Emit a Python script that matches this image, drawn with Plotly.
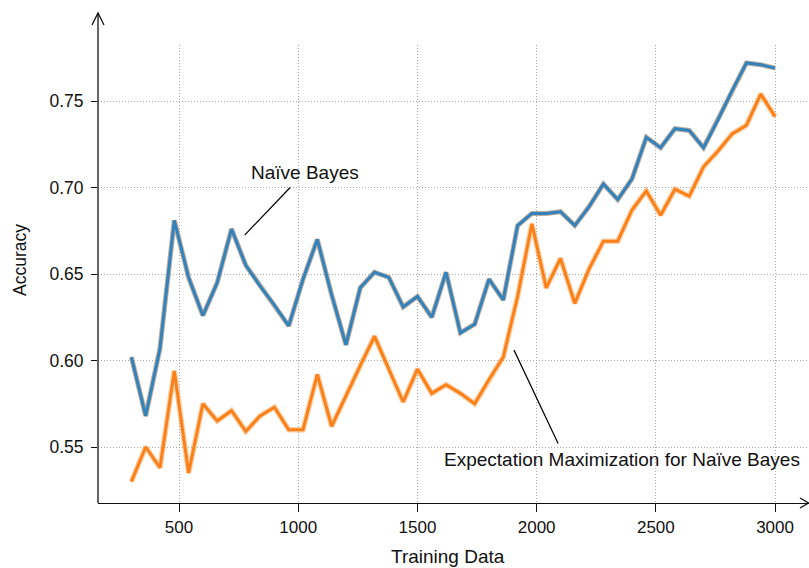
import plotly.graph_objects as go

training_size = [300, 360, 420, 480, 540, 600, 660, 720, 780, 840,
                 900, 960, 1020, 1080, 1140, 1200, 1260, 1320, 1380, 1440,
                 1500, 1560, 1620, 1680, 1740, 1800, 1860, 1920, 1980, 2040,
                 2100, 2160, 2220, 2280, 2340, 2400, 2460, 2520, 2580, 2640,
                 2700, 2760, 2820, 2880, 2940, 3000]

naive_bayes = [0.602, 0.568, 0.607, 0.681, 0.648, 0.626, 0.645, 0.676, 0.655, 0.643,
               0.632, 0.620, 0.647, 0.670, 0.638, 0.609, 0.642, 0.651, 0.648, 0.631,
               0.637, 0.625, 0.651, 0.616, 0.621, 0.647, 0.635, 0.678, 0.685, 0.685,
               0.686, 0.678, 0.689, 0.702, 0.693, 0.705, 0.729, 0.723, 0.734, 0.733,
               0.723, 0.739, 0.756, 0.772, 0.771, 0.769]

em_naive_bayes = [0.530, 0.550, 0.538, 0.594, 0.535, 0.575, 0.565, 0.571, 0.559, 0.568,
                  0.573, 0.560, 0.560, 0.592, 0.562, 0.580, 0.597, 0.614, 0.595, 0.576,
                  0.595, 0.581, 0.586, 0.581, 0.575, 0.589, 0.602, 0.637, 0.679, 0.642,
                  0.659, 0.633, 0.653, 0.669, 0.669, 0.687, 0.698, 0.684, 0.699, 0.695,
                  0.712, 0.721, 0.731, 0.736, 0.754, 0.741]

x_ticks = [500, 1000, 1500, 2000, 2500, 3000]
y_ticks = [0.55, 0.60, 0.65, 0.70, 0.75]
y_tick_labels = ["0.55", "0.60", "0.65", "0.70", "0.75"]

FONT = "Liberation Sans, Arial, sans-serif"
W, H = 809, 568
L, R, T, B = 98, 0, 45, 65
PW, PH = W - L - R, H - T - B


def px(x):
    return (x - L) / PW


def py(y):
    return (H - B - y) / PH


fig = go.Figure()

fig.add_trace(go.Scatter(x=training_size, y=em_naive_bayes, mode="lines",
                         line=dict(color="rgba(255,150,60,0.45)", width=5.5),
                         hoverinfo="skip", showlegend=False))
fig.add_trace(go.Scatter(x=training_size, y=em_naive_bayes, mode="lines",
                         line=dict(color="#f8811a", width=3),
                         name="EM", showlegend=False))
fig.add_trace(go.Scatter(x=training_size, y=naive_bayes, mode="lines",
                         line=dict(color="rgba(150,120,100,0.6)", width=5),
                         hoverinfo="skip", showlegend=False))
fig.add_trace(go.Scatter(x=training_size, y=naive_bayes, mode="lines",
                         line=dict(color="#3282bb", width=3),
                         name="NB", showlegend=False))

shapes = []
shapes.append(dict(type="line", xref="paper", yref="paper",
                   x0=0, x1=0, y0=0, y1=py(13), line=dict(color="#111", width=1.3)))
shapes.append(dict(type="path", xref="paper", yref="paper",
                   path=f"M {px(92)},{py(25)} L {px(98)},{py(13)} L {px(104)},{py(25)}",
                   line=dict(color="#111", width=1.3)))
shapes.append(dict(type="path", xref="paper", yref="paper",
                   path=f"M {px(800)},{py(498)} L {px(808.5)},{py(503)} L {px(800)},{py(508)}",
                   line=dict(color="#111", width=1.3)))
shapes.append(dict(type="line", xref="x", yref="y", x0=775, y0=0.6725, x1=966, y1=0.700,
                   line=dict(color="black", width=1.2)))
shapes.append(dict(type="line", xref="x", yref="y", x0=1905, y0=0.606, x1=2090, y1=0.552,
                   line=dict(color="black", width=1.2)))

annotations = [
    dict(x=1028, y=0.7085, xref="x", yref="y", text="Naïve Bayes", showarrow=False,
         font=dict(family=FONT, size=19, color="#111")),
    dict(x=2358, y=0.543, xref="x", yref="y", text="Expectation Maximization for Naïve Bayes",
         showarrow=False, font=dict(family=FONT, size=19, color="#111")),
    dict(x=px(448), y=py(556), xref="paper", yref="paper", text="Training Data",
         showarrow=False, xanchor="center", yanchor="middle",
         font=dict(family=FONT, size=19, color="#111")),
    dict(x=px(20), y=py(260), xref="paper", yref="paper", text="Accuracy",
         showarrow=False, xanchor="center", yanchor="middle", textangle=-90,
         font=dict(family=FONT, size=17.5, color="#111")),
]

fig.update_layout(
    width=W, height=H,
    margin=dict(l=L, r=R, t=T, b=B, autoexpand=False),
    paper_bgcolor="white", plot_bgcolor="white",
    shapes=shapes, annotations=annotations,
    font=dict(family=FONT, size=17, color="#111"),
    xaxis=dict(range=[160, 160 + PW / 0.2384], tickvals=x_ticks, automargin=False,
               showgrid=True, gridcolor="#a8a8a8", griddash="1px,2px", gridwidth=1.3,
               zeroline=False, showline=True, linecolor="#111", linewidth=1.3,
               ticks="outside", ticklen=8, tickcolor="#111", tickwidth=1.3,
               tickfont=dict(family=FONT, size=17, color="#111")),
    yaxis=dict(range=[0.75 - (H - B - 101) / 1730, 0.75 + (101 - T) / 1730],
               tickvals=y_ticks, ticktext=y_tick_labels, automargin=False,
               showgrid=True, gridcolor="#a8a8a8", griddash="1px,2px", gridwidth=1.3,
               zeroline=False, showline=False, ticklabelstandoff=4,
               ticks="outside", ticklen=6, tickcolor="#111", tickwidth=1.3,
               tickfont=dict(family=FONT, size=17.5, color="#111")),
)

fig.write_html("out.html", config={"displayModeBar": False},
               post_script="document.body.style.margin='0px';document.body.style.overflow='hidden';")
